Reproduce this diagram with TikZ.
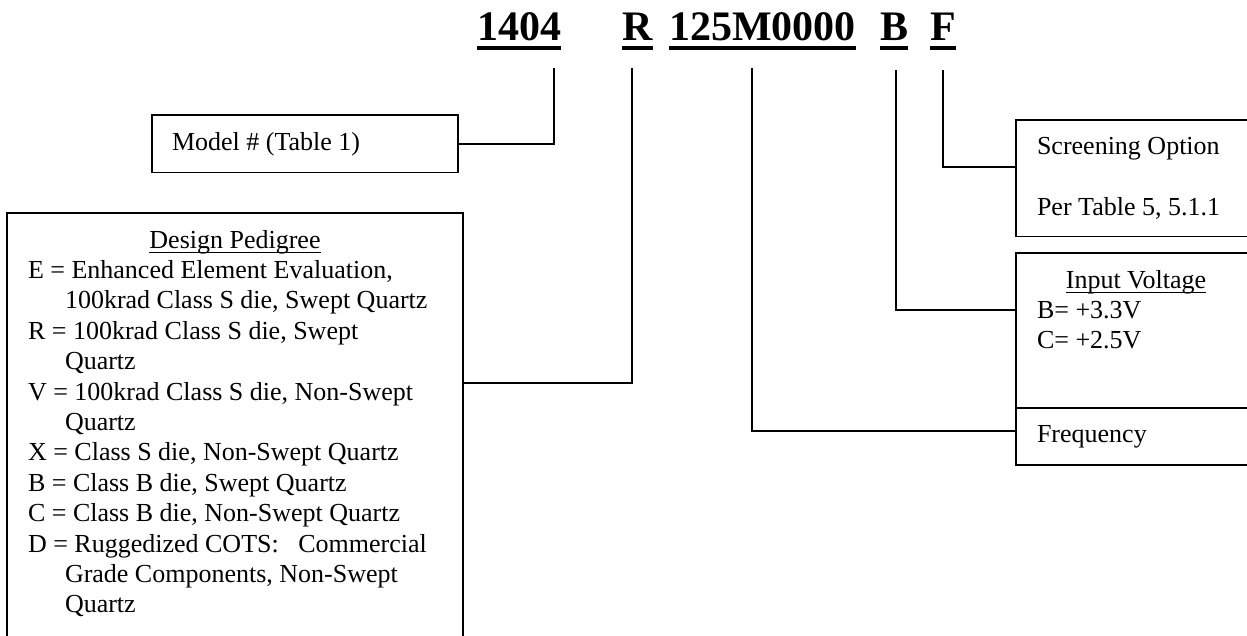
\documentclass[tikz,border=0pt]{standalone}
\usepackage{fontspec}
\setmainfont{Liberation Serif}
\usetikzlibrary{calc,positioning}

\newsavebox\ulsave
% underline: depth of rule bottom, rule thickness, text
\newcommand\ulbox[3]{\sbox\ulsave{#3}\rlap{\rule[-#1]{\wd\ulsave}{#2}}\usebox\ulsave}
\newcommand\ulcode[1]{\ulbox{10pt}{4pt}{#1}}
\newcommand\ulhead[1]{\ulbox{5pt}{1.3pt}{#1}}

\newcommand\boxfont{\fontsize{26}{30.4}\selectfont}
\newcommand\codefont{\fontsize{42}{48}\selectfont\bfseries}

\tikzset{
  partbox/.style={rectangle, draw=black, line width=1.5pt, outer sep=0pt, anchor=north west,
    inner xsep=21pt, inner ysep=17pt, align=left, font=\boxfont},
  codepart/.style={anchor=base west, inner sep=0pt, font=\codefont},
  link/.style={line width=1.5pt}
}

\begin{document}
\begin{tikzpicture}[x=1pt, y=-1pt]
    \useasboundingbox (0,0) rectangle (1247,635);
    % part number
    \node[codepart] (code1404) at (477,40) {\ulcode{1404}};
    \node[codepart] (codeR) at (622,40) {\ulcode{R}};
    \node[codepart] (codeFreq) at (669,40) {\ulcode{125M0000}};
    \node[codepart] (codeB) at (880,40) {\ulcode{B}};
    \node[codepart] (codeF) at (930,40) {\ulcode{F}};
    \coordinate (tap1404) at (554,68);
    \coordinate (tapR) at (632,68);
    \coordinate (tapFreq) at (752,68);
    \coordinate (tapB) at (896,70);
    \coordinate (tapF) at (943,70);
    % boxes
    \node[partbox, inner xsep=20pt] (model) at (152,115) {\makebox[266pt][l]{Model \# (Table 1)}};
    \node[partbox] (pedigree) at (7,213) {\makebox[414pt]{\ulhead{Design Pedigree}}\\
      E = Enhanced Element Evaluation,\\
      \hspace*{37pt}100krad Class S die, Swept Quartz\\
      R = 100krad Class S die, Swept\\
      \hspace*{37pt}Quartz\\
      V = 100krad Class S die, Non-Swept\\
      \hspace*{37pt}Quartz\\
      X = Class S die, Non-Swept Quartz\\
      B = Class B die, Swept Quartz\\
      C = Class B die, Non-Swept Quartz\\
      D = Ruggedized COTS:~~~Commercial\\
      \hspace*{37pt}Grade Components, Non-Swept\\
      \hspace*{37pt}Quartz\\
      \mbox{}};
    \node[partbox] (screen) at (1016,120) {\makebox[198pt][l]{Screening Option}\\[31pt]Per Table 5, 5.1.1};
    \node[partbox] (volt) at (1016,253) {\makebox[198pt]{\ulhead{Input Voltage}}\\
      B= +3.3V\\C= +2.5V\\[12pt]\mbox{}};
    \node[partbox, below=0pt of volt] (freq) {\makebox[198pt][l]{Frequency}};
    % leaders
    \draw[link] (model.east) -| (tap1404);
    \draw[link] (tapR) |- ($(pedigree.north east)+(0,170)$);
    \draw[link] (tapFreq) |- ($(freq.north west)+(0,23)$);
    \draw[link] (tapB) |- ($(volt.north west)+(0,57)$);
    \draw[link] (tapF) |- ($(screen.north west)+(0,47)$);
\end{tikzpicture}
\end{document}
